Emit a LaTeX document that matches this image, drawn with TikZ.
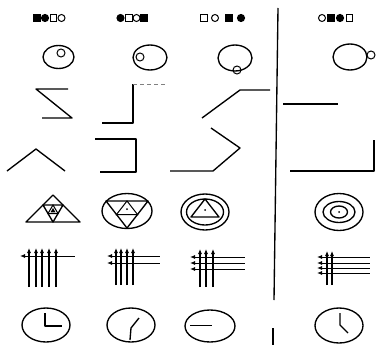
\documentclass[tikz,border=0pt]{standalone}
\usetikzlibrary{arrows.meta}
\tikzset{
  ln/.style={line width=1.35pt, line join=round},
  thin/.style={line width=1pt},
  faint/.style={line width=0.7pt, gray, dash pattern=on 4pt off 3pt},
  tip/.style={-{Latex[length=5pt,width=4.2pt]}, line width=1.2pt},
  ltip/.style={{Latex[length=5pt,width=4pt]}-, line width=0.9pt},
  pics/fsq/.style={code={\fill (-4,-4) rectangle (4,4);}},
  pics/fci/.style={code={\fill (0,0) circle (4.1pt);}},
  pics/osq/.style={code={\draw[line width=1.1pt] (-3.4,-3.6) rectangle (3.4,3.6);}},
  pics/oci/.style={code={\draw[line width=1pt] (0,0) circle (3.5pt);}},
}
\begin{document}
\begin{tikzpicture}[x=1pt,y=-1pt]
\useasboundingbox (0,0) rectangle (379,345);
% divider
\draw[ln] (278,8) -- (274,300);
\draw[ln] (273,328) -- (273,345);
% row 1 symbols
\pic at (36.5,18) {fsq}; \pic at (45,18) {fci}; \pic at (53.5,18) {osq}; \pic at (61.5,18) {oci};
\pic at (120.5,18) {fci}; \pic at (129,18) {osq}; \pic at (136.5,18) {oci}; \pic at (144,18) {fsq};
\pic at (204,18) {osq}; \pic at (215,18) {oci}; \pic at (229,18) {fsq}; \pic at (241,18) {fci};
\pic at (322,18) {oci}; \pic at (331,18) {fsq}; \pic at (340,18) {fci}; \pic at (349.5,18) {osq};
% row 2 circles
\draw[ln] (58.5,57) ellipse [x radius=15.5pt, y radius=11.5pt];
\draw[thin] (61,53) circle (4pt);
\draw[ln] (150,57.5) ellipse [x radius=17pt, y radius=12.5pt];
\draw[thin] (140,57) circle (4pt);
\draw[ln] (235,58) ellipse [x radius=17pt, y radius=13pt];
\draw[thin] (237,70) circle (4pt);
\draw[ln] (350,57) ellipse [x radius=17pt, y radius=13pt];
\draw[thin] (371,55) circle (4pt);
% row 3 lines
\draw[ln] (68,89) -- (36,89) -- (72,118) -- (42,118);
\draw[ln] (102,123) -- (133,123) -- (133,84);
\draw[faint] (133,84) -- (167,84);
\draw[ln] (202,118) -- (240,90) -- (270,90);
\draw[ln] (283,104) -- (338,104);
% row 4 lines
\draw[ln] (7,171) -- (36,149) -- (65,171);
\draw[ln] (95,139) -- (136,139) -- (136,172) -- (100,172);
\draw[ln] (170,171) -- (213,171) -- (240,148) -- (211,128);
\draw[ln] (290,171) -- (374,171) -- (374,140);
% row 5 triangles
\draw[ln] (53,195) -- (26,222) -- (80,222) -- cycle;
\draw[ln] (43,205) -- (63,205) -- (53,222) -- cycle;
\draw[thin] (53,205) -- (48,213.5) -- (58,213.5) -- cycle;
\fill (53,208) -- (50.5,212.3) -- (55.5,212.3) -- cycle;
\draw[ln] (127,211) ellipse [x radius=25pt, y radius=17.5pt];
\draw[ln] (106,201) -- (148,201) -- (127,228) -- cycle;
\draw[thin] (127,201) -- (116.5,214.5) -- (137.5,214.5) -- cycle;
\fill (127,209) circle (1pt);
\draw[ln] (205,212) ellipse [x radius=24pt, y radius=18pt];
\draw[ln] (205,212) ellipse [x radius=18.5pt, y radius=13pt];
\draw[ln] (205,199) -- (191,217) -- (219,217) -- cycle;
\fill (205,210) circle (1pt);
\draw[ln] (339,212) ellipse [x radius=24pt, y radius=18.5pt];
\draw[ln] (339,212) ellipse [x radius=16pt, y radius=10.5pt];
\draw[ln] (339,212) ellipse [x radius=8.5pt, y radius=6pt];
\fill (339,212) circle (1pt);
% row 6 tally arrows
\draw[ltip] (20,256) -- (75,256);
\foreach \x in {29,36,42,49,56} \draw[tip] (\x,287) -- (\x,248);
\draw[ltip] (107,256) -- (160,256);
\draw[ltip] (107,263) -- (160,263);
\foreach \x in {116,121,127,133} \draw[tip] (\x,285) -- (\x,248);
\foreach \y in {257,263,269} \draw[ltip] (190,\y) -- (245,\y);
\foreach \x in {200,206,213} \draw[tip] (\x,287) -- (\x,249);
\foreach \y in {257,263,268,273} \draw[ltip] (317,\y) -- (370,\y);
\foreach \x in {327,332} \draw[tip] (\x,285) -- (\x,251);
% row 7 clocks
\draw[ln] (46,325) ellipse [x radius=24pt, y radius=17pt];
\draw[ln] (45,313) -- (45,326) -- (62,326);
\draw[ln] (131,325) ellipse [x radius=24pt, y radius=17pt];
\draw[ln] (130,340) -- (131,328) -- (139,318);
\draw[ln] (210,326) ellipse [x radius=25pt, y radius=16pt];
\draw[thin] (190,325) -- (212,325);
\draw[ln] (339,325.5) ellipse [x radius=24pt, y radius=17.5pt];
\draw[ln] (340,313) -- (340,325) -- (348,333);
\end{tikzpicture}
\end{document}
